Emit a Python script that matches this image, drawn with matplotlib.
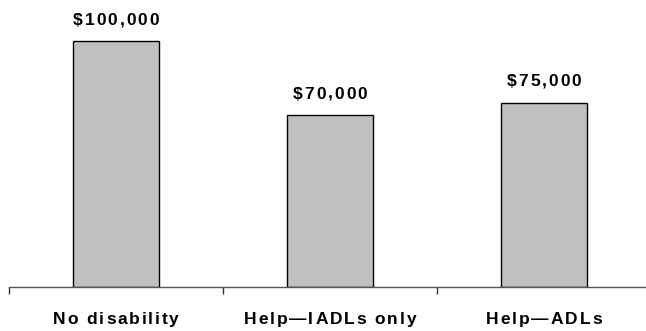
import matplotlib.pyplot as plt
from matplotlib import transforms
from matplotlib.font_manager import FontProperties, findfont
from matplotlib.ft2font import FT2Font
from matplotlib.ticker import FixedLocator

# Income by disability status
groups = ["No disability", "Help\u2014IADLs only", "Help\u2014ADLs"]
incomes = [100000, 70000, 75000]
value_labels = ["$100,000", "$70,000", "$75,000"]

DPI = 100
FONT_SIZE = 12.5
TRACKING = 1.9  # extra pixels between letters
label_font = FontProperties(family="Liberation Sans", weight="bold", size=FONT_SIZE)


def spaced_text(ax, x, y, s, trans, dy=0):
    """Draw s centred on (x, y) with extra letter spacing, char by char."""
    ft = FT2Font(findfont(label_font))
    ft.set_size(FONT_SIZE, DPI)
    advances = [ft.load_char(ord(c)).linearHoriAdvance / 65536 for c in s]
    total = sum(advances) + TRACKING * (len(s) - 1)
    pos = -total / 2
    for c, adv in zip(s, advances):
        t = transforms.offset_copy(trans, fig=ax.figure, x=pos, y=dy, units="dots")
        ax.text(x, y, c, transform=t, ha="left", va="baseline",
                fontproperties=label_font, color="black")
        pos += adv + TRACKING


fig = plt.figure(figsize=(6.46, 3.31), dpi=DPI)
ax = fig.add_axes([9 / 646, 44 / 331, 642 / 646, 287 / 331])

x = list(range(len(groups)))
ax.bar(x, incomes, width=0.4, color="#c0c0c0", edgecolor="black", linewidth=1.0)

ax.set_xlim(-0.5, 2.5)
ax.set_ylim(0, 100000 * 287 / 246)

for xi, val, lab in zip(x, incomes, value_labels):
    spaced_text(ax, xi, val, lab, ax.transData, dy=16)

below = transforms.blended_transform_factory(ax.transData, ax.transAxes)
for xi, name in zip(x, groups):
    spaced_text(ax, xi, 0, name, below, dy=-37)

for side in ["top", "right", "left"]:
    ax.spines[side].set_visible(False)
ax.spines["bottom"].set_color("#555555")
ax.spines["bottom"].set_linewidth(1.0)
ax.set_yticks([])

# tick marks on the boundaries between groups
ax.set_xticks([])
ax.xaxis.set_minor_locator(FixedLocator([-0.5, 0.5, 1.5, 2.5]))
ax.tick_params(axis="x", which="minor", length=5, width=1.0, color="#333333", direction="out")

fig.savefig("out.png", dpi=DPI)
